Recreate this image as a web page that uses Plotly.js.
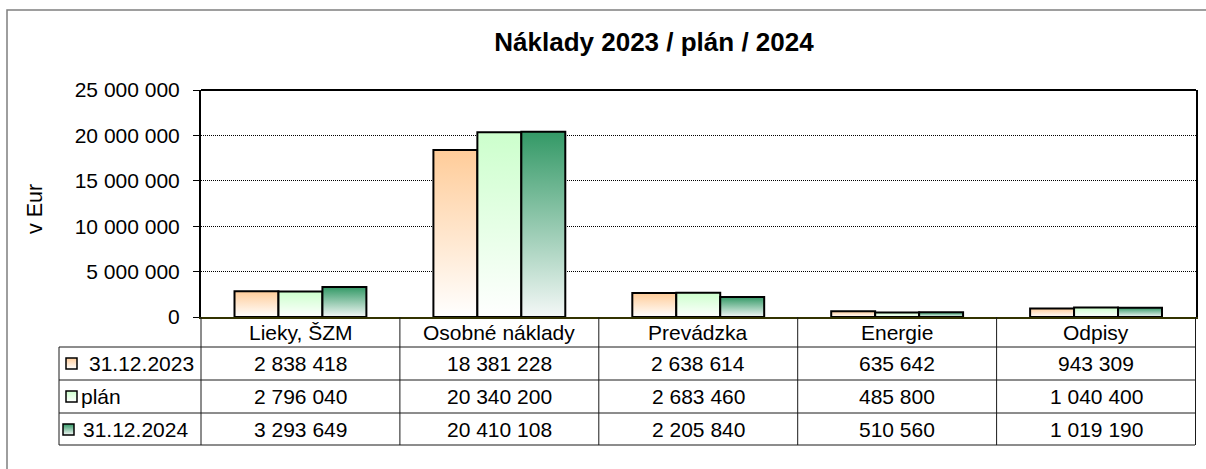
<!DOCTYPE html>
<html>
<head>
<meta charset="utf-8">
<script src="https://cdn.plot.ly/plotly-3.0.1.min.js"></script>
<style>
body{margin:0;padding:0;background:#fff;}
#myPlot{width:1206px;height:469px;}
</style>
</head>
<body>
<div id="myPlot"></div>
<script>
///data
var categories = ['Lieky, ŠZM','Osobné náklady','Prevádzka','Energie','Odpisy'];
var seriesNames = ['31.12.2023','plán','31.12.2024'];
var val2023 = [2838418,18381228,2638614,635642,943309];
var valPlan = [2796040,20340200,2683460,485800,1040400];
var val2024 = [3293649,20410108,2205840,510560,1019190];

var topColors = ['rgb(255, 204, 153)','rgb(204, 255, 204)','rgb(51, 153, 102)'];
var bottomColors = ['#ffffff','#ffffff','#f4f8f7'];

var FONT = 'Liberation Sans, Arial, sans-serif';
var FS = 21;

///plot area in pixels: x 201..1196, y 90..317
function px(x){ return (x-201)/995; }
function py(y){ return (317-y)/227; }

function fmt(v){
	return v.toString().replace(/\B(?=(\d{3})+(?!\d))/g,' ');
}

var allVals = [val2023,valPlan,val2024];

var data = [];
for (var s=0;s<3;s++){
	data.push({
		type:'bar',
		x:categories,
		y:allVals[s],
		name:seriesNames[s],
		marker:{color:topColors[s],line:{color:'#000',width:2}},
		hoverinfo:'none'
	});
}

///data table under the plot
var rowTop = [347,380,413];
var rowH = 33;
var shapes = [];
var annotations = [];
var lineCol = '#1a1a1a';

///horizontal lines
for (var r=0;r<rowTop.length;r++){
	shapes.push({type:'line',xref:'paper',yref:'paper',x0:px(59),x1:px(1195),y0:py(rowTop[r]),y1:py(rowTop[r]),line:{color:lineCol,width:1}});
}
shapes.push({type:'line',xref:'paper',yref:'paper',x0:px(59),x1:px(1195),y0:py(445),y1:py(445),line:{color:lineCol,width:1}});
///vertical lines
shapes.push({type:'line',xref:'paper',yref:'paper',x0:px(59),x1:px(59),y0:py(347),y1:py(445),line:{color:lineCol,width:1}});
shapes.push({type:'line',xref:'paper',yref:'paper',x0:0,x1:0,y0:py(317),y1:py(445),line:{color:lineCol,width:1}});
for (var c=0;c<categories.length;c++){
	shapes.push({type:'line',xref:'x',yref:'paper',x0:c+0.5,x1:c+0.5,y0:py(317),y1:py(445),line:{color:lineCol,width:1}});
	///category header row
	annotations.push({xref:'x',yref:'paper',x:c,y:py(332),xanchor:'center',yanchor:'middle',
		text:categories[c],showarrow:false,font:{family:FONT,size:FS,color:'#000'}});
}
///top border of plot area
shapes.push({type:'line',xref:'paper',yref:'paper',x0:0,x1:1,y0:1,y1:1,line:{color:'#000',width:2}});
///outer chart border
shapes.push({type:'rect',xref:'paper',yref:'paper',x0:px(7),x1:px(1230),y0:py(10),y1:py(490),line:{color:'#7f7f7f',width:1.5}});

///legend keys
var keyX = [66,66,63];
var textX = [87,79,81];
for (var s2=0;s2<3;s2++){
	var yc = rowTop[s2]+rowH/2;
	shapes.push({type:'rect',xref:'paper',yref:'paper',x0:px(keyX[s2]),x1:px(keyX[s2]+11),y0:py(yc-5.5),y1:py(yc+5.5),
		fillcolor:topColors[s2],line:{color:'#000',width:1.5}});
	annotations.push({xref:'paper',yref:'paper',x:px(textX[s2]),y:py(yc-0.5),xanchor:'left',yanchor:'middle',
		text:seriesNames[s2],showarrow:false,font:{family:FONT,size:FS,color:'#000'}});
	for (var c2=0;c2<categories.length;c2++){
		annotations.push({xref:'x',yref:'paper',x:c2,y:py(yc-0.5),xanchor:'center',yanchor:'middle',
			text:fmt(allVals[s2][c2]),showarrow:false,font:{family:FONT,size:FS,color:'#000'}});
	}
}

///y axis title
annotations.push({xref:'paper',yref:'paper',x:px(35),y:py(209),textangle:-90,xanchor:'center',yanchor:'middle',
	text:'v Eur',showarrow:false,font:{family:FONT,size:21.5,color:'#000'}});

var layout = {
	width:1206,
	height:469,
	margin:{l:201,r:10,t:90,b:152},
	paper_bgcolor:'#fff',
	plot_bgcolor:'#fff',
	separators:', ',
	showlegend:false,
	barmode:'group',
	bargap:0.337,
	bargroupgap:0,
	font:{family:FONT,size:FS,color:'#000'},
	title:{text:'<b>Náklady 2023 / plán / 2024</b>',x:654/1206,xref:'container',xanchor:'center',
		y:1-42/469,yref:'container',yanchor:'middle',font:{family:FONT,size:26,color:'#000'}},
	xaxis:{
		type:'category',
		showline:true,linecolor:'#333300',linewidth:2,mirror:false,
		ticks:'',showgrid:false,zeroline:false,
		showticklabels:false
	},
	yaxis:{
		range:[0,25000000],
		dtick:5000000,
		tickformat:',d',
		showline:true,linecolor:'#000',linewidth:2,mirror:true,
		ticks:'outside',ticklen:6,tickcolor:'#000',tickwidth:1,
		showgrid:true,gridcolor:'#000',gridwidth:1,griddash:'1px,1px',
		zeroline:false,
		tickfont:{family:FONT,size:FS,color:'#000'},
		ticklabelstandoff:9
	},
	shapes:shapes,
	annotations:annotations
};

///vertical gradients like the Excel fill
function addGradients(gd){
	var svg = gd.querySelector('svg.main-svg');
	var ns = 'http://www.w3.org/2000/svg';
	var defs = document.createElementNS(ns,'defs');
	for (var i=0;i<3;i++){
		var g = document.createElementNS(ns,'linearGradient');
		g.setAttribute('id','grad'+i);
		g.setAttribute('x1','0');g.setAttribute('y1','0');
		g.setAttribute('x2','0');g.setAttribute('y2','1');
		var s1 = document.createElementNS(ns,'stop');
		s1.setAttribute('offset','0');s1.setAttribute('stop-color',topColors[i]);
		var s2 = document.createElementNS(ns,'stop');
		s2.setAttribute('offset','1');s2.setAttribute('stop-color',bottomColors[i]);
		g.appendChild(s1);g.appendChild(s2);
		defs.appendChild(g);
	}
	svg.insertBefore(defs,svg.firstChild);
	var paths = gd.querySelectorAll('path');
	for (var p=0;p<paths.length;p++){
		var f = paths[p].style.fill;
		var idx = topColors.indexOf(f);
		if (idx>=0){ paths[p].style.fill = 'url(#grad'+idx+')'; }
	}
}

Plotly.newPlot('myPlot',data,layout,{staticPlot:true}).then(addGradients);
</script>
</body>
</html>
